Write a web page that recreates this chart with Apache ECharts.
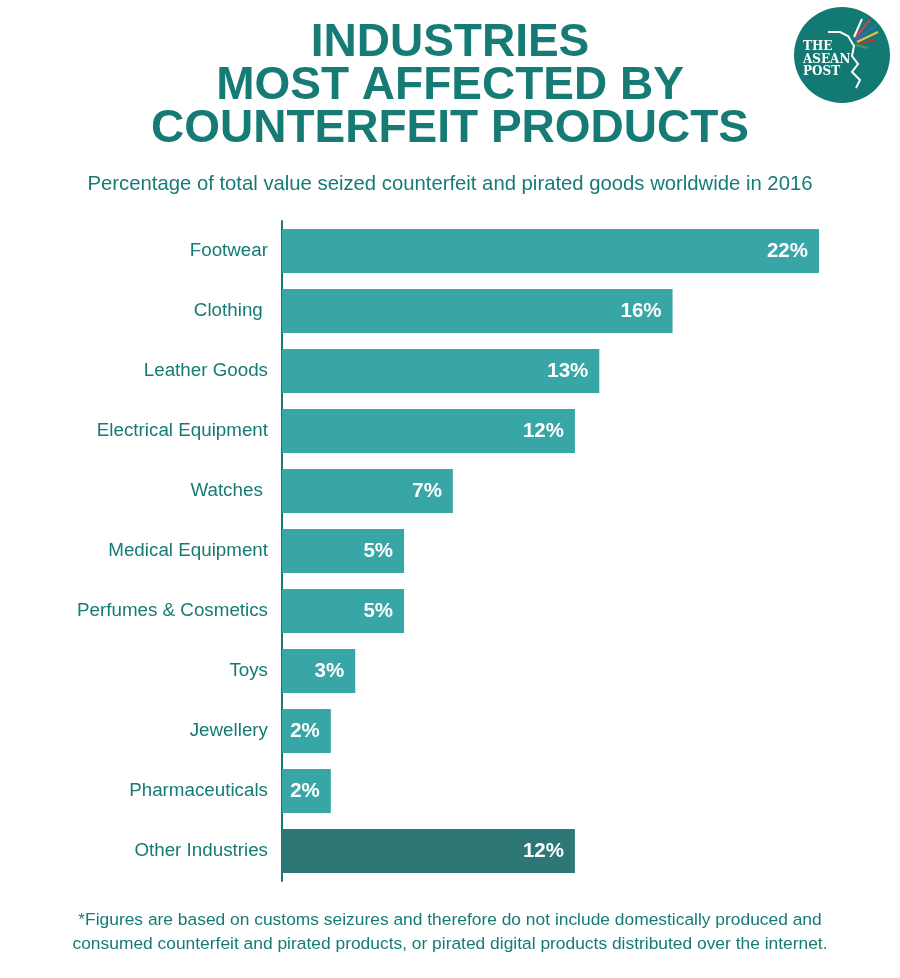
<!DOCTYPE html>
<html>
<head>
<meta charset="utf-8">
<script src="https://cdn.jsdelivr.net/npm/echarts@6/dist/echarts.min.js"></script>
<style>
html,body{margin:0;padding:0;background:#fff;}
#chart{width:900px;height:978px;}
</style>
</head>
<body>
<div id="chart"></div>
<script>
var categories = ['Footwear', 'Clothing ', 'Leather Goods', 'Electrical Equipment', 'Watches ', 'Medical Equipment', 'Perfumes & Cosmetics', 'Toys', 'Jewellery', 'Pharmaceuticals', 'Other Industries'];
var values = [22, 16, 13, 12, 7, 5, 5, 3, 2, 2, 12];
var barColors = ['#38a6a6', '#38a6a6', '#38a6a6', '#38a6a6', '#38a6a6', '#38a6a6', '#38a6a6', '#38a6a6', '#38a6a6', '#38a6a6', '#2d7877'];

var teal = '#157b74';
var chart = echarts.init(document.getElementById('chart'));
var font = '"Liberation Sans", Arial, sans-serif';

chart.setOption({
  backgroundColor: '#ffffff',
  animation: false,
  title: [{
    text: 'INDUSTRIES\nMOST AFFECTED BY\nCOUNTERFEIT PRODUCTS',
    left: 445, top: 17, textAlign: 'center',
    textStyle: { fontFamily: font, fontWeight: 'bold', fontSize: 46, lineHeight: 43, color: teal }
  }, {
    text: 'Percentage of total value seized counterfeit and pirated goods worldwide in 2016',
    left: 445, top: 169, textAlign: 'center',
    textStyle: { fontFamily: font, fontWeight: 'normal', fontSize: 20.3, color: teal }
  }, {
    text: '*Figures are based on customs seizures and therefore do not include domestically produced and\nconsumed counterfeit and pirated products, or pirated digital products distributed over the internet.',
    left: 445, top: 903, textAlign: 'center',
    textStyle: { fontFamily: font, fontWeight: 'normal', fontSize: 17.4, lineHeight: 24, color: teal }
  }],
  grid: { left: 282, right: 81, top: 221, bottom: 97, containLabel: false },
  xAxis: { type: 'value', min: 0, max: 22, show: false },
  yAxis: {
    type: 'category', data: categories, inverse: true,
    axisLine: { show: true, lineStyle: { color: teal, width: 2 } },
    axisTick: { show: false },
    axisLabel: { fontFamily: font, fontSize: 18.8, color: teal, margin: 14 }
  },
  series: [{
    type: 'bar',
    barWidth: 44,
    data: values.map(function (v, i) { return { value: v, itemStyle: { color: barColors[i] } }; }),
    label: {
      show: true, position: 'insideRight', distance: 11,
      formatter: '{c}%',
      fontFamily: font, fontWeight: 'bold', fontSize: 20.5, color: '#ffffff'
    }
  }],
  graphic: [
    { type: 'circle', shape: { cx: 842, cy: 55, r: 48 }, style: { fill: '#127a72' } },
    { type: 'text', left: 803, top: 41, style: { text: 'THE\nASEAN\nPOST', fill: '#ffffff', font: 'bold 12px "DejaVu Serif", serif', lineHeight: 12.5 } },
    { type: 'polyline', shape: { points: [[828, 32], [840, 32], [848, 36], [854, 46], [852, 56], [858, 64], [852, 72], [860, 80], [856, 88]] }, style: { stroke: '#ffffff', lineWidth: 2, fill: null } },
    { type: 'line', shape: { x1: 855, y1: 38, x2: 870, y2: 20 }, style: { stroke: '#d83a5a', lineWidth: 2 } },
    { type: 'line', shape: { x1: 856, y1: 40, x2: 876, y2: 25 }, style: { stroke: '#3a66c8', lineWidth: 2 } },
    { type: 'line', shape: { x1: 857, y1: 42, x2: 878, y2: 32 }, style: { stroke: '#e8c040', lineWidth: 2 } },
    { type: 'line', shape: { x1: 854, y1: 37, x2: 862, y2: 19 }, style: { stroke: '#ffffff', lineWidth: 2 } },
    { type: 'line', shape: { x1: 857, y1: 44, x2: 875, y2: 40 }, style: { stroke: '#c83040', lineWidth: 2 } },
    { type: 'line', shape: { x1: 855, y1: 45, x2: 868, y2: 48 }, style: { stroke: '#3aa060', lineWidth: 2 } }
  ]
});
</script>
</body>
</html>
